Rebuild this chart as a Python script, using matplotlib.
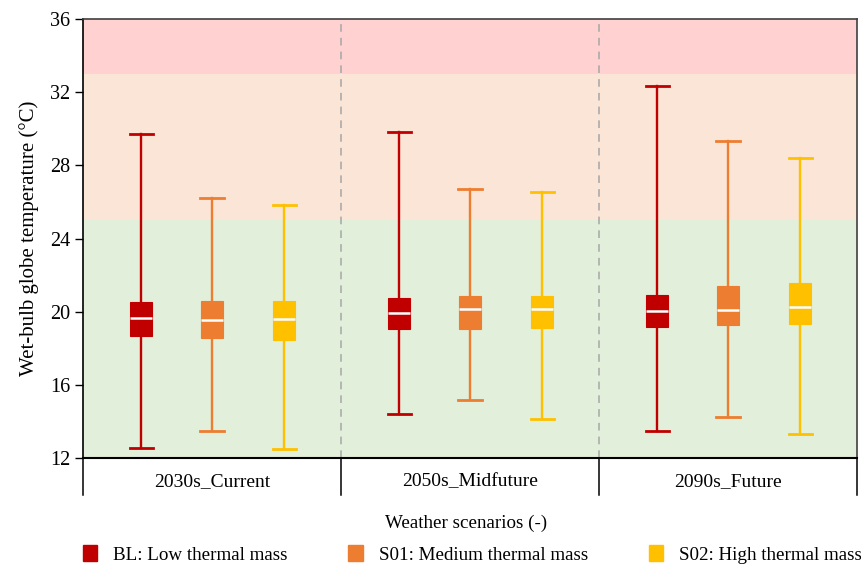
import numpy as np
import matplotlib.pyplot as plt
from matplotlib.patches import Patch
from matplotlib import transforms

plt.rcParams["font.family"] = ["Liberation Serif", "DejaVu Serif"]

scenarios = ["2030s_Current", "2050s_Midfuture", "2090s_Future"]
cases = ["BL: Low thermal mass", "S01: Medium thermal mass", "S02: High thermal mass"]
colors = ["#C00000", "#ED7D31", "#FFC000"]

# min, q1, median, q3, max per case, one entry per scenario
bl_stats = [[12.55, 18.65, 19.65, 20.53, 29.71],
            [14.43, 19.05, 19.91, 20.76, 29.84],
            [13.49, 19.18, 20.03, 20.93, 32.36]]
s01_stats = [[13.49, 18.58, 19.56, 20.58, 26.22],
             [15.16, 19.07, 20.13, 20.87, 26.69],
             [14.25, 19.25, 20.09, 21.42, 29.33]]
s02_stats = [[12.49, 18.43, 19.58, 20.58, 25.85],
             [14.14, 19.10, 20.13, 20.83, 26.56],
             [13.32, 19.31, 20.27, 21.58, 28.38]]

# comfort bands (degC)
band_edges = [12, 25, 33, 36]
band_colors = ["#E2EFDA", "#FBE5D6", "#FFD1D1"]

offsets = [-0.275, 0.0, 0.28]
box_w = 0.085

fig = plt.figure(figsize=(8.62, 5.68), dpi=100)
ax = fig.add_axes([0.0963, 0.1937, 0.8979, 0.7728])

for lo, hi, c in zip(band_edges[:-1], band_edges[1:], band_colors):
    ax.axhspan(lo, hi, color=c, zorder=0, lw=0)

for stats_set, off, col in zip([bl_stats, s01_stats, s02_stats], offsets, colors):
    stats = []
    for s in stats_set:
        stats.append(dict(whislo=s[0], q1=s[1], med=s[2], q3=s[3], whishi=s[4], fliers=[]))
    pos = np.arange(len(scenarios)) + off
    ax.bxp(stats, positions=pos, widths=box_w, patch_artist=True,
           showfliers=False, manage_ticks=False,
           boxprops=dict(facecolor=col, edgecolor=col, linewidth=0.8),
           whiskerprops=dict(color=col, linewidth=1.7),
           capprops=dict(color=col, linewidth=2.0),
           capwidths=box_w * 1.05,
           medianprops=dict(color="white", linewidth=1.8),
           zorder=3)

for x in [0.5, 1.5]:
    ax.axvline(x, color="#A6A6A6", ls=(0, (5, 4)), lw=1.1, zorder=1)

ax.set_xlim(-0.5, 2.5)
ax.set_ylim(12, 36)
ax.set_yticks(np.arange(12, 37, 4))
ax.set_xticks([])
ax.tick_params(axis="y", labelsize=14.5, length=6, width=1, direction="out",
               colors="black", pad=3)
ax.set_ylabel("Wet-bulb globe temperature (\u00b0C)", fontsize=15, labelpad=8)

for side in ["top", "right"]:
    ax.spines[side].set_color("#404040")
for side in ["left", "bottom"]:
    ax.spines[side].set_color("black")
for sp in ax.spines.values():
    sp.set_linewidth(1.2)
ax.spines["bottom"].set_linewidth(1.5)

# category row below the axis
trans = transforms.blended_transform_factory(ax.transData, ax.transAxes)
for x in [-0.5, 0.5, 1.5, 2.5]:
    ax.plot([x, x], [0, -0.085], color="black", lw=1.1, transform=trans, clip_on=False)
for i, name in enumerate(scenarios):
    ax.text(i, -0.055, name, transform=trans, ha="center", va="center", fontsize=14)

fig.text(0.5406, 0.079, "Weather scenarios (-)", ha="center", va="center", fontsize=13.7)

handles = [Patch(facecolor=c, edgecolor=c) for c in colors]
fig.legend(handles, cases, loc="center", bbox_to_anchor=(0.548, 0.024), ncol=3,
           frameon=False, fontsize=13.7, handlelength=0.75, handleheight=0.95,
           handletextpad=0.85, columnspacing=3.2)

fig.savefig("out.png", dpi=100)
